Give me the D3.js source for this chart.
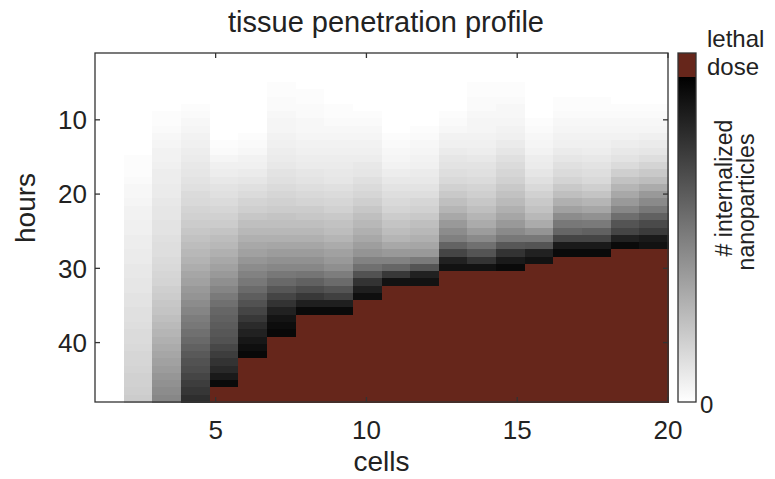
<!DOCTYPE html>
<html>
<head>
<meta charset="utf-8">
<script src="https://cdn.jsdelivr.net/npm/d3@7"></script>
<style>
    body { margin: 0; background: #fff; }
    svg text { font-family: "Liberation Sans", Arial, Helvetica, sans-serif; fill: #222; }
    .axis-label { font-size: 28px; }
    .tick-label { font-size: 26px; }
    .chart-title { font-size: 29px; }
    .cbar-label { font-size: 24px; }
    .cbar-title { font-size: 23px; }
</style>
</head>
<body>
<script>
// Chart values
const cells = d3.range(1, 21);
const hours = d3.range(1, 49);
const xTicks = [5, 10, 15, 20];
const yTicks = [10, 20, 30, 40];
const lethal = 100;

// internalized nanoparticles per cell (row) and hour (column), as % of the lethal dose
const uptake = [
    [0,0,0,0,0,0,0,0,0,0,0,0,0,0,0,0,0,0,0,0,0,0,0,0,0,0,0,0,0,0,0,0,0,0,0,0,0,0,0,0,0,0,0,0,0,0,0,0],
    [0,0,0,0,0,0,0,0,0,0,0,0,0,0,1,1,1,2,3,3,4,5,5,6,6,7,7,8,8,9,9,10,10,11,11,12,12,13,14,14,15,16,16,17,18,18,19,20],
    [0,0,0,0,0,0,0,0,1,1,2,3,4,5,5,6,7,7,8,8,9,10,10,11,11,12,13,13,14,15,16,17,19,20,22,23,25,27,29,31,33,35,37,39,41,43,45,47],
    [0,0,0,0,0,0,0,1,2,3,4,5,6,7,8,9,10,11,12,14,15,17,18,20,22,24,26,28,30,32,35,37,40,42,45,48,51,53,56,59,62,65,68,70,73,76,79,82],
    [0,0,0,0,0,0,0,0,0,0,0,0,1,2,4,6,7,9,11,12,14,16,18,20,23,26,28,31,34,37,40,44,48,52,56,60,62,64,66,68,72,76,80,84,90,96,100,100],
    [0,0,0,0,0,0,0,0,0,0,0,1,2,3,5,6,8,10,12,14,17,19,22,25,28,31,34,37,41,45,49,53,58,63,68,73,78,83,87,91,94,97,100,100,100,100,100,100],
    [0,0,0,0,1,1,2,2,3,4,4,5,6,7,8,9,11,12,14,16,18,20,23,25,28,31,35,39,43,47,53,59,66,73,80,87,92,95,97,100,100,100,100,100,100,100,100,100],
    [0,0,0,0,0,1,1,2,2,3,3,4,5,6,7,8,10,11,13,15,17,20,22,25,28,31,35,39,43,47,54,62,70,78,88,96,100,100,100,100,100,100,100,100,100,100,100,100],
    [0,0,0,0,0,0,0,1,1,2,3,4,5,6,7,8,9,10,12,14,16,18,21,24,26,29,33,37,40,44,51,58,67,75,88,96,100,100,100,100,100,100,100,100,100,100,100,100],
    [0,0,0,0,0,0,0,0,1,2,3,4,5,6,7,9,10,12,14,16,19,22,25,28,31,34,38,42,49,56,68,80,88,94,100,100,100,100,100,100,100,100,100,100,100,100,100,100],
    [0,0,0,0,0,0,0,0,0,0,0,1,2,3,4,5,7,9,11,13,15,17,20,23,26,29,34,40,49,60,78,93,100,100,100,100,100,100,100,100,100,100,100,100,100,100,100,100],
    [0,0,0,0,0,0,0,0,0,0,1,2,3,4,5,6,8,9,11,13,16,18,21,25,28,31,35,40,52,67,87,93,100,100,100,100,100,100,100,100,100,100,100,100,100,100,100,100],
    [0,0,0,0,0,0,0,0,1,2,3,5,6,8,10,11,13,15,18,21,25,29,34,40,45,50,61,73,87,93,100,100,100,100,100,100,100,100,100,100,100,100,100,100,100,100,100,100],
    [0,0,0,0,1,1,2,2,3,4,4,5,6,7,9,11,12,14,17,19,22,25,29,33,39,46,56,67,80,93,100,100,100,100,100,100,100,100,100,100,100,100,100,100,100,100,100,100],
    [0,0,0,0,1,1,2,3,3,4,5,6,8,10,12,14,16,18,21,24,27,31,35,40,46,53,66,80,90,96,100,100,100,100,100,100,100,100,100,100,100,100,100,100,100,100,100,100],
    [0,0,0,0,0,0,0,0,0,1,2,3,4,5,7,8,10,12,15,18,21,24,28,33,42,53,67,87,93,100,100,100,100,100,100,100,100,100,100,100,100,100,100,100,100,100,100,100],
    [0,0,0,0,0,0,1,1,2,3,4,5,6,8,10,12,14,17,21,25,31,37,45,53,60,73,90,96,100,100,100,100,100,100,100,100,100,100,100,100,100,100,100,100,100,100,100,100],
    [0,0,0,0,0,0,1,1,2,3,4,5,6,7,9,11,13,15,19,23,29,35,43,52,62,73,90,96,100,100,100,100,100,100,100,100,100,100,100,100,100,100,100,100,100,100,100,100],
    [0,0,0,0,0,0,0,1,2,3,4,5,7,9,11,14,19,24,29,34,40,47,57,67,73,87,96,100,100,100,100,100,100,100,100,100,100,100,100,100,100,100,100,100,100,100,100,100],
    [0,0,0,0,0,0,0,1,2,3,4,6,8,10,13,17,21,26,33,40,46,53,62,71,77,90,93,100,100,100,100,100,100,100,100,100,100,100,100,100,100,100,100,100,100,100,100,100]
];

// Set chart dimensions
const width = 775;
const height = 479;
const margin = { top: 53, right: 107, bottom: 77, left: 95 };
const lethalColor = "#66261b";

const svg = d3.select("body")
    .append("svg")
    .attr("width", width)
    .attr("height", height);

// Axis scales (the axis runs from the first to the last cell / hour)
const xScale = d3.scaleLinear()
    .domain([1, 20])
    .range([margin.left, width - margin.right]);

const yScale = d3.scaleLinear()
    .domain([1, 48])
    .range([margin.top, height - margin.bottom]);

// The image fills the whole box, one band per cell / hour
const xBand = d3.scaleBand()
    .domain(cells)
    .range(xScale.range());

const yBand = d3.scaleBand()
    .domain(hours)
    .range(yScale.range());

const grayScale = d3.scaleLinear()
    .domain([0, lethal])
    .range(["#ffffff", "#000000"]);

const fillFor = v => v >= lethal ? lethalColor : grayScale(v);

// Flatten the grid
const grid = [];
cells.forEach((c, i) => {
    hours.forEach((h, j) => {
        grid.push({ cell: c, hour: h, value: uptake[i][j] });
    });
});

// Draw the heatmap
svg.append("g")
    .selectAll("rect")
    .data(grid)
    .join("rect")
    .attr("x", d => xBand(d.cell))
    .attr("y", d => yBand(d.hour))
    .attr("width", xBand.bandwidth() + 0.5)
    .attr("height", yBand.bandwidth() + 0.5)
    .attr("fill", d => fillFor(d.value))
    .attr("shape-rendering", "crispEdges");

// Box with inward ticks on every side
const boxColor = "#333";
const tickLen = 5;

const frame = svg.append("g")
    .attr("stroke", boxColor)
    .attr("stroke-width", 1.3)
    .attr("fill", "none");

frame.append("rect")
    .attr("x", xScale(1))
    .attr("y", yScale(1))
    .attr("width", xScale(20) - xScale(1))
    .attr("height", yScale(48) - yScale(1));

xTicks.forEach(t => {
    frame.append("line")
        .attr("x1", xScale(t)).attr("x2", xScale(t))
        .attr("y1", yScale(48)).attr("y2", yScale(48) - tickLen);
    frame.append("line")
        .attr("x1", xScale(t)).attr("x2", xScale(t))
        .attr("y1", yScale(1)).attr("y2", yScale(1) + tickLen);
});

yTicks.forEach(t => {
    frame.append("line")
        .attr("x1", xScale(1)).attr("x2", xScale(1) + tickLen)
        .attr("y1", yScale(t)).attr("y2", yScale(t));
    frame.append("line")
        .attr("x1", xScale(20)).attr("x2", xScale(20) - tickLen)
        .attr("y1", yScale(t)).attr("y2", yScale(t));
});

// Tick labels
svg.append("g")
    .selectAll("text")
    .data(xTicks)
    .join("text")
    .attr("class", "tick-label")
    .attr("x", d => xScale(d))
    .attr("y", yScale(48) + 37)
    .attr("text-anchor", "middle")
    .text(d => d);

svg.append("g")
    .selectAll("text")
    .data(yTicks)
    .join("text")
    .attr("class", "tick-label")
    .attr("x", xScale(1) - 8)
    .attr("y", d => yScale(d))
    .attr("dy", "0.36em")
    .attr("text-anchor", "end")
    .text(d => d);

// Title and axis labels
svg.append("text")
    .attr("class", "chart-title")
    .attr("x", 386)
    .attr("y", 32)
    .attr("text-anchor", "middle")
    .text("tissue penetration profile");

svg.append("text")
    .attr("class", "axis-label")
    .attr("x", (xScale(1) + xScale(20)) / 2)
    .attr("y", 471)
    .attr("text-anchor", "middle")
    .text("cells");

svg.append("text")
    .attr("class", "axis-label")
    .attr("transform", "rotate(-90)")
    .attr("x", -208)
    .attr("y", 35)
    .attr("text-anchor", "middle")
    .text("hours");

// Colorbar
const cbar = { x: 678, w: 18, top: 53, bottom: 402, lethalBottom: 77 };

const defs = svg.append("defs");
const grad = defs.append("linearGradient")
    .attr("id", "cbar-grad")
    .attr("x1", 0).attr("y1", 1)
    .attr("x2", 0).attr("y2", 0);
grad.append("stop").attr("offset", "0%").attr("stop-color", grayScale(0));
grad.append("stop").attr("offset", "100%").attr("stop-color", grayScale(lethal));

svg.append("rect")
    .attr("x", cbar.x)
    .attr("y", cbar.lethalBottom)
    .attr("width", cbar.w)
    .attr("height", cbar.bottom - cbar.lethalBottom)
    .attr("fill", "url(#cbar-grad)");

svg.append("rect")
    .attr("x", cbar.x)
    .attr("y", cbar.top)
    .attr("width", cbar.w)
    .attr("height", cbar.lethalBottom - cbar.top)
    .attr("fill", lethalColor);

svg.append("rect")
    .attr("x", cbar.x)
    .attr("y", cbar.top)
    .attr("width", cbar.w)
    .attr("height", cbar.bottom - cbar.top)
    .attr("fill", "none")
    .attr("stroke", boxColor)
    .attr("stroke-width", 1.3);

svg.append("text")
    .attr("class", "cbar-label")
    .attr("x", cbar.x + cbar.w + 4)
    .attr("y", cbar.bottom + 2)
    .attr("dy", "0.36em")
    .text("0");

svg.append("text")
    .attr("class", "cbar-label")
    .attr("x", 707)
    .attr("y", 47)
    .text("lethal");

svg.append("text")
    .attr("class", "cbar-label")
    .attr("x", 707)
    .attr("y", 75)
    .text("dose");

svg.append("text")
    .attr("class", "cbar-title")
    .attr("transform", "rotate(-90)")
    .attr("x", -188)
    .attr("y", 732)
    .attr("text-anchor", "middle")
    .text("# internalized");

svg.append("text")
    .attr("class", "cbar-title")
    .attr("transform", "rotate(-90)")
    .attr("x", -202)
    .attr("y", 754)
    .attr("text-anchor", "middle")
    .text("nanoparticles");
</script>
</body>
</html>
